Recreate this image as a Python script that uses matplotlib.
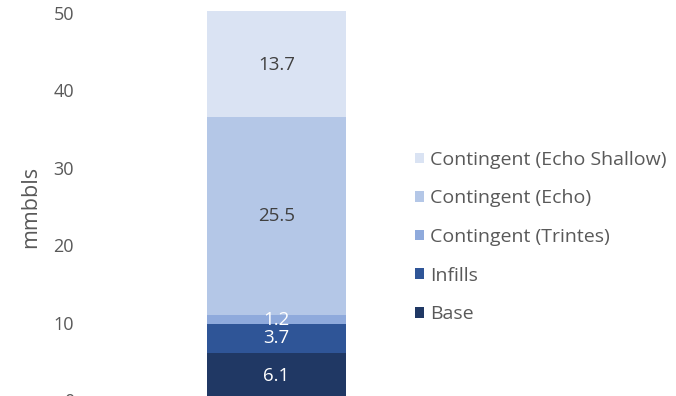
import matplotlib
matplotlib.use("Agg")
import matplotlib.pyplot as plt

plt.rcParams['font.family'] = ['Open Sans', 'DejaVu Sans']

series = ["Base", "Infills", "Contingent (Trintes)", "Contingent (Echo)", "Contingent (Echo Shallow)"]
values = [6.1, 3.7, 1.2, 25.5, 13.7]
colors = ["#203864", "#2F5597", "#8FAADC", "#B4C7E7", "#DAE3F3"]
label_colors = ["#FFFFFF", "#FFFFFF", "#FFFFFF", "#404040", "#404040"]
yticks = [0, 10, 20, 30, 40, 50]

W, H = 676, 396
fig = plt.figure(figsize=(W / 100, H / 100), dpi=100)
ax_l, ax_r = 88, 465
y0_px, y50_px = 400, 13
ax = fig.add_axes([ax_l / W, (H - y0_px) / H, (ax_r - ax_l) / W, (y0_px - y50_px) / H])

bar_w = 139 / (ax_r - ax_l)
bottom = 0
handles = []
for name, v, c, lc in zip(series, values, colors, label_colors):
    bc = ax.bar(0, v, width=bar_w, bottom=bottom, color=c, label=name, clip_on=False)
    ax.bar_label(bc, labels=[f"{v:.1f}"], label_type='center', color=lc, fontsize=13.5)
    handles.append(bc)
    bottom += v

ax.set_xlim(-0.5, 0.5)
ax.set_ylim(0, 50)
ax.set_yticks(yticks)
ax.set_xticks([])
ax.tick_params(axis='y', length=0, pad=10, labelsize=13, labelcolor="#595959")
for s in ax.spines.values():
    s.set_visible(False)
ax.set_ylabel("mmbbls", fontsize=15.5, color="#595959", labelpad=9)

leg = fig.legend(handles[::-1], series[::-1], loc='upper left',
                 bbox_to_anchor=(407 / W, 1 - 143 / H), frameon=False,
                 fontsize=14, labelcolor="#595959", handlelength=0.47, handleheight=0.47,
                 handletextpad=0.3, labelspacing=1.06, borderaxespad=0)

fig.savefig("out.png", dpi=100)
